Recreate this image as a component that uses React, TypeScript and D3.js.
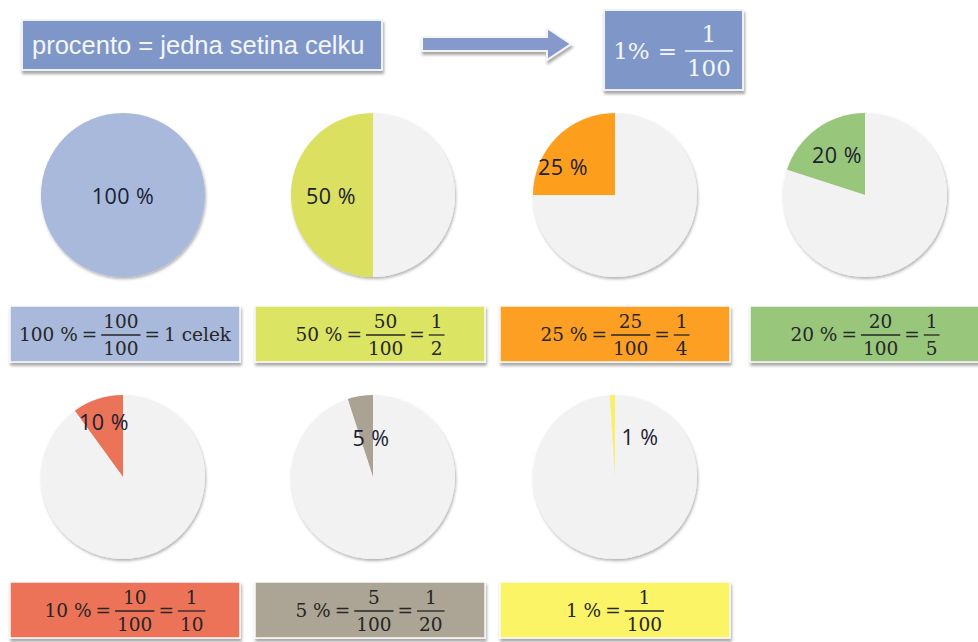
import React, { useMemo } from 'react';
import * as d3 from 'd3';

// values shown in the slide
const PERCENTS = [100, 50, 25, 20, 10, 5, 1];
const PIE_LABELS = ['100 %', '50 %', '25 %', '20 %', '10 %', '5 %', '1 %'];
const NUMERATORS = [['100'], ['50', '1'], ['25', '1'], ['20', '1'], ['10', '1'], ['5', '1'], ['1']];
const DENOMINATORS = [['100'], ['100', '2'], ['100', '4'], ['100', '5'], ['100', '10'], ['100', '20'], ['100']];
const TAILS = ['1 celek', '', '', '', '', '', ''];
const TITLE = 'procento = jedna setina celku';

const SLICE_COLORS = ['#a9b9db', '#dbe061', '#fd9f1f', '#98c77b', '#ea7359', '#aaa292', '#fbf062'];
const BOX_COLORS = ['#a9b9db', '#dbe463', '#fd9f22', '#98c77b', '#ec7359', '#aca494', '#fbf466'];
const REST_COLOR = '#f2f2f2';

// layout
const W = 978;
const H = 642;
const COLS = [123, 373, 615, 865];
const ROWS = [195, 477];
const RADIUS = 82;
const BOX_X = [10, 255, 500, 750];
const BOX_Y = [306, 582];
const BOX_W = 230;
const BOX_H = 56;
const LABEL_OFFSETS: [number, number][] = [[0, 0], [-42, 0], [-52, -29], [-28, -41], [-19, -56], [-2, -40], [25, -41]];

const EQ_FONT = '"DejaVu Serif", serif';
const EQ_SIZE = 18.5;

const measure = (() => {
  let ctx: CanvasRenderingContext2D | null = null;
  return (s: string, size: number, family: string) => {
    if (!ctx) ctx = document.createElement('canvas').getContext('2d');
    if (!ctx) return s.length * size * 0.55;
    ctx.font = `${size}px ${family}`;
    return ctx.measureText(s).width;
  };
})();

type Token = { kind: 'text'; s: string } | { kind: 'frac'; n: string; d: string };

const Equation: React.FC<{ tokens: Token[]; cx: number; cy: number; size: number; color: string; gap: number }> = ({ tokens, cx, cy, size, color, gap }) => {
  const widths = tokens.map(t =>
    t.kind === 'text'
      ? measure(t.s, size, EQ_FONT)
      : Math.max(measure(t.n, size, EQ_FONT), measure(t.d, size, EQ_FONT)) + 4
  );
  const total = d3.sum(widths) + gap * (tokens.length - 1);
  let x = cx - total / 2;
  const items: React.ReactNode[] = [];
  tokens.forEach((t, i) => {
    const w = widths[i];
    if (t.kind === 'text') {
      items.push(
        <text key={i} x={x} y={cy + size * 0.37} fontSize={size} fill={color} fontFamily={EQ_FONT}>{t.s}</text>
      );
    } else {
      items.push(
        <g key={i}>
          <text x={x + w / 2} y={cy - size * 0.33} fontSize={size} fill={color} fontFamily={EQ_FONT} textAnchor="middle">{t.n}</text>
          <line x1={x} x2={x + w} y1={cy + 1} y2={cy + 1} stroke={color} strokeWidth={1.3} />
          <text x={x + w / 2} y={cy + size * 1.15} fontSize={size} fill={color} fontFamily={EQ_FONT} textAnchor="middle">{t.d}</text>
        </g>
      );
    }
    x += w + gap;
  });
  return <g>{items}</g>;
};

const App: React.FC = () => {
  const pie = useMemo(() => d3.pie<number>().sort(null).value(d => d).startAngle(0).endAngle(-2 * Math.PI), []);
  const arc = useMemo(() => d3.arc<d3.PieArcDatum<number>>().innerRadius(0).outerRadius(RADIUS), []);

  return (
    <svg width={W} height={H} style={{ position: 'absolute', left: 0, top: 0, background: '#fff' }}>
      <defs>
        <filter id="shadow" x="-20%" y="-20%" width="140%" height="160%">
          <feDropShadow dx="1" dy="3" stdDeviation="1.8" floodColor="#000" floodOpacity="0.35" />
        </filter>
        <filter id="pieShadow" x="-20%" y="-20%" width="140%" height="140%">
          <feDropShadow dx="1" dy="2" stdDeviation="1.5" floodColor="#000" floodOpacity="0.3" />
        </filter>
      </defs>

      {/* header */}
      <rect x={22} y={20} width={360} height={50} fill="#7f96c9" stroke="#eef1f8" strokeWidth={2} filter="url(#shadow)" />
      <text x={32} y={54} fontSize={25.5} fill="#f4f6fb" fontFamily='"Liberation Sans", Arial, sans-serif'>{TITLE}</text>

      <path d="M422,37 L547,37 L547,28 L571,44 L547,60 L547,51 L422,51 Z" fill="#8599cc" stroke="#f4f6fb" strokeWidth={2} filter="url(#shadow)" />

      <rect x={604} y={10} width={139} height={80} fill="#7f96c9" stroke="#eef1f8" strokeWidth={2} filter="url(#shadow)" />
      <Equation tokens={[{ kind: 'text', s: '1%' }, { kind: 'text', s: '=' }, { kind: 'frac', n: '1', d: '100' }]}
        cx={673} cy={50} size={23} color="#f4f6fb" gap={8} />

      {PERCENTS.map((p, i) => {
        const cx = COLS[i % 4];
        const cy = ROWS[Math.floor(i / 4)];
        const arcs = pie([p, 100 - p]);
        const [ox, oy] = LABEL_OFFSETS[i];
        return (
          <g key={`pie-${i}`}>
            <g transform={`translate(${cx},${cy})`} filter="url(#pieShadow)">
              {arcs.map((a, j) => (
                a.value > 0 ? <path key={j} d={arc(a) || ''} fill={j === 0 ? SLICE_COLORS[i] : REST_COLOR} /> : null
              ))}
            </g>
            <text x={cx + ox} y={cy + oy} textAnchor="middle" dominantBaseline="central" fontSize={21.5}
              fontFamily='"Open Sans", sans-serif' fill="#1a2033" letterSpacing={0.5}>{PIE_LABELS[i]}</text>
          </g>
        );
      })}

      {PERCENTS.map((p, i) => {
        const bx = BOX_X[i % 4];
        const by = BOX_Y[Math.floor(i / 4)];
        const tokens: Token[] = [{ kind: 'text', s: `${p} %` }];
        NUMERATORS[i].forEach((n, k) => {
          tokens.push({ kind: 'text', s: '=' });
          tokens.push({ kind: 'frac', n, d: DENOMINATORS[i][k] });
        });
        if (TAILS[i]) {
          tokens.push({ kind: 'text', s: '=' });
          tokens.push({ kind: 'text', s: TAILS[i] });
        }
        return (
          <g key={`box-${i}`}>
            <rect x={bx} y={by} width={BOX_W} height={BOX_H} fill={BOX_COLORS[i]} stroke="#fafafa" strokeWidth={1.5} filter="url(#shadow)" />
            <Equation tokens={tokens} cx={bx + BOX_W / 2} cy={by + BOX_H / 2} size={EQ_SIZE} color="#262626" gap={4} />
          </g>
        );
      })}
    </svg>
  );
};

export default App;
